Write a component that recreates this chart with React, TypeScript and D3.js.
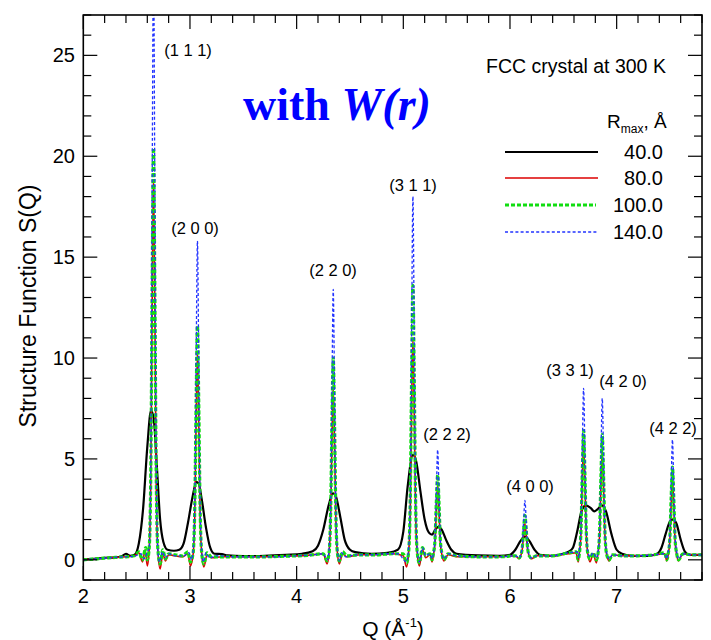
import React from "react";
import * as d3 from "d3";

type Pt = [number, number];

const xTicks = [2, 3, 4, 5, 6, 7];
const yTicks = [0, 5, 10, 15, 20, 25];
const legendLabels = ["40.0", "80.0", "100.0", "140.0"];

const series40: Pt[] = [
  [2.0, 0.02], [2.1, 0.05], [2.2, 0.1], [2.3, 0.12], [2.36, 0.18], [2.4, 0.3], [2.44, 0.2], [2.48, 0.25],
  [2.52, 0.8], [2.56, 2.5], [2.6, 5.6], [2.635, 7.4], [2.66, 7.0], [2.69, 4.6], [2.72, 2.0], [2.75, 0.9],
  [2.79, 0.5], [2.85, 0.45], [2.9, 0.5], [2.94, 0.8], [2.98, 1.8], [3.02, 3.0], [3.06, 3.85], [3.08, 3.8],
  [3.11, 3.0], [3.15, 1.6], [3.19, 0.6], [3.23, 0.3], [3.3, 0.28], [3.35, 0.22], [3.5, 0.18], [3.7, 0.2],
  [3.9, 0.25], [4.05, 0.3], [4.15, 0.42], [4.2, 0.7], [4.25, 1.5], [4.3, 2.7], [4.34, 3.3], [4.37, 3.1],
  [4.41, 2.1], [4.45, 1.0], [4.5, 0.5], [4.55, 0.38], [4.7, 0.3], [4.85, 0.35], [4.9, 0.4], [4.95, 0.5],
  [5.0, 1.4], [5.04, 3.6], [5.09, 5.2], [5.12, 4.9], [5.16, 3.4], [5.2, 2.0], [5.24, 1.35], [5.27, 1.25],
  [5.3, 1.5], [5.33, 1.65], [5.36, 1.5], [5.4, 1.0], [5.45, 0.5], [5.5, 0.3], [5.7, 0.22], [5.9, 0.2],
  [6.0, 0.25], [6.05, 0.5], [6.1, 0.95], [6.14, 1.15], [6.18, 0.95], [6.23, 0.5], [6.28, 0.25], [6.4, 0.2],
  [6.5, 0.3], [6.55, 0.4], [6.59, 0.6], [6.63, 1.4], [6.67, 2.4], [6.71, 2.7], [6.76, 2.55], [6.79, 2.4],
  [6.82, 2.5], [6.86, 2.7], [6.9, 2.4], [6.95, 1.3], [7.0, 0.5], [7.05, 0.3], [7.15, 0.2], [7.3, 0.2],
  [7.38, 0.3], [7.42, 0.6], [7.46, 1.3], [7.5, 1.9], [7.53, 2.0], [7.56, 1.8], [7.6, 1.0], [7.64, 0.4],
  [7.68, 0.25], [7.8, 0.25],
];

const series80: Pt[] = [
  [2.0, 0.0], [2.1, 0.04], [2.2, 0.08], [2.3, 0.12], [2.4, 0.15], [2.48, 0.2], [2.52, 0.35], [2.555, -0.1], [2.58, 0.5], [2.6, -0.3],
  [2.618, 0.55], [2.633, 4.1], [2.646, 12.8], [2.658, 18.8], [2.67, 12.8], [2.683, 4.1], [2.698, 0.55],
  [2.72, -0.45], [2.745, 0.3], [2.77, -0.05], [2.8, 0.25], [2.86, 0.2], [2.93, 0.15], [2.98, 0.3], [3.005, -0.3],
  [3.03, 0.3], [3.045, 2.2], [3.058, 6.9], [3.07, 10.2], [3.082, 6.9], [3.095, 2.2], [3.11, 0.3],
  [3.13, -0.35], [3.16, 0.25], [3.2, 0.1], [3.3, 0.15], [3.5, 0.15], [3.7, 0.15], [3.9, 0.18], [4.1, 0.22], [4.25, 0.3], [4.285, -0.2],
  [4.303, 0.3], [4.318, 1.9], [4.331, 5.8], [4.343, 8.6], [4.355, 5.8], [4.368, 1.9], [4.383, 0.3],
  [4.4, -0.2], [4.43, 0.3], [4.47, 0.15], [4.6, 0.25], [4.75, 0.25], [4.9, 0.3], [5.0, 0.2], [5.03, -0.35],
  [5.05, 0.35], [5.065, 2.4], [5.078, 7.5], [5.09, 11.0], [5.102, 7.5], [5.115, 2.4], [5.13, 0.35],
  [5.15, -0.3], [5.18, 0.5], [5.21, 0.1], [5.25, 0.25], [5.27, -0.1],
  [5.282, 0.25], [5.297, 0.8], [5.31, 2.5], [5.322, 3.7], [5.334, 2.5], [5.347, 0.8], [5.362, 0.25],
  [5.38, -0.05], [5.42, 0.25], [5.5, 0.15], [5.7, 0.15], [5.9, 0.15], [6.05, 0.2], [6.085, 0.05],
  [6.1, 0.2], [6.115, 0.5], [6.128, 1.25], [6.14, 1.8], [6.152, 1.25], [6.165, 0.5], [6.18, 0.2],
  [6.2, 0.05], [6.25, 0.2], [6.4, 0.2], [6.55, 0.3], [6.62, 0.35], [6.64, -0.1],
  [6.65, 0.3], [6.665, 1.25], [6.678, 3.9], [6.69, 5.7], [6.702, 3.9], [6.715, 1.25], [6.73, 0.3],
  [6.75, -0.1], [6.78, 0.3], [6.81, -0.15],
  [6.825, 0.3], [6.84, 1.2], [6.853, 3.7], [6.865, 5.4], [6.877, 3.7], [6.89, 1.2], [6.905, 0.3],
  [6.93, -0.05], [6.96, 0.25], [7.05, 0.2], [7.2, 0.2], [7.35, 0.25], [7.45, 0.3], [7.47, -0.05],
  [7.483, 0.25], [7.498, 0.9], [7.511, 2.7], [7.523, 4.0], [7.535, 2.7], [7.548, 0.9], [7.563, 0.25],
  [7.58, -0.05], [7.62, 0.3], [7.7, 0.25], [7.8, 0.25],
];

const series100: Pt[] = [
  [2.0, 0.0], [2.1, 0.04], [2.2, 0.08], [2.3, 0.12], [2.4, 0.15], [2.48, 0.2], [2.52, 0.4], [2.555, 0.0], [2.585, 0.6], [2.6, 0.0],
  [2.618, 0.6], [2.633, 4.5], [2.646, 13.9], [2.658, 20.4], [2.67, 13.9], [2.683, 4.5], [2.698, 0.6],
  [2.72, -0.2], [2.745, 0.5], [2.77, 0.05], [2.8, 0.3], [2.86, 0.25], [2.93, 0.2], [2.98, 0.4], [3.005, -0.1],
  [3.03, 0.35], [3.045, 2.6], [3.058, 7.9], [3.07, 11.6], [3.082, 7.9], [3.095, 2.6], [3.11, 0.35],
  [3.13, -0.2], [3.16, 0.35], [3.2, 0.15], [3.3, 0.15], [3.5, 0.15], [3.7, 0.15], [3.9, 0.18], [4.1, 0.22], [4.25, 0.3], [4.285, -0.05],
  [4.303, 0.3], [4.318, 2.2], [4.331, 6.8], [4.343, 10.0], [4.355, 6.8], [4.368, 2.2], [4.383, 0.3],
  [4.4, -0.05], [4.43, 0.4], [4.47, 0.2], [4.6, 0.25], [4.75, 0.25], [4.9, 0.3], [5.0, 0.3], [5.03, -0.15],
  [5.05, 0.4], [5.065, 3.0], [5.078, 9.2], [5.09, 13.6], [5.102, 9.2], [5.115, 3.0], [5.13, 0.4],
  [5.15, -0.15], [5.18, 0.6], [5.21, 0.2], [5.25, 0.3], [5.27, 0.0],
  [5.282, 0.3], [5.297, 1.0], [5.31, 2.9], [5.322, 4.2], [5.334, 2.9], [5.347, 1.0], [5.362, 0.3],
  [5.38, 0.0], [5.42, 0.3], [5.5, 0.2], [5.7, 0.15], [5.9, 0.15], [6.05, 0.2], [6.085, 0.1],
  [6.1, 0.2], [6.115, 0.6], [6.128, 1.5], [6.14, 2.2], [6.152, 1.5], [6.165, 0.6], [6.18, 0.2],
  [6.2, 0.1], [6.25, 0.2], [6.4, 0.2], [6.55, 0.35], [6.62, 0.4], [6.64, 0.0],
  [6.65, 0.3], [6.665, 1.4], [6.678, 4.35], [6.69, 6.4], [6.702, 4.35], [6.715, 1.4], [6.73, 0.3],
  [6.75, 0.05], [6.78, 0.35], [6.81, 0.0],
  [6.825, 0.3], [6.84, 1.4], [6.853, 4.2], [6.865, 6.2], [6.877, 4.2], [6.89, 1.4], [6.905, 0.3],
  [6.93, 0.0], [6.96, 0.25], [7.05, 0.2], [7.2, 0.2], [7.35, 0.25], [7.45, 0.35], [7.47, 0.0],
  [7.483, 0.3], [7.498, 1.0], [7.511, 3.1], [7.523, 4.6], [7.535, 3.1], [7.548, 1.0], [7.563, 0.3],
  [7.58, 0.0], [7.62, 0.3], [7.7, 0.25], [7.8, 0.25],
];

const series140: Pt[] = [
  [2.0, 0.0], [2.1, 0.04], [2.2, 0.08], [2.3, 0.12], [2.4, 0.15], [2.48, 0.18], [2.54, 0.3], [2.57, 0.05], [2.6, 0.4],
  [2.618, 0.6], [2.633, 5.1], [2.646, 19], [2.658, 30], [2.67, 19], [2.683, 5.1], [2.698, 0.6],
  [2.715, -0.1], [2.74, 0.4], [2.77, 0.1], [2.8, 0.3], [2.86, 0.2], [2.94, 0.2], [2.99, 0.35], [3.015, 0.0],
  [3.03, 0.5], [3.045, 2.8], [3.058, 10], [3.07, 15.8], [3.082, 10], [3.095, 2.8], [3.11, 0.5],
  [3.125, -0.1], [3.15, 0.35], [3.18, 0.1], [3.25, 0.2], [3.4, 0.15], [3.6, 0.15], [3.8, 0.15], [4.0, 0.2], [4.15, 0.25], [4.25, 0.3], [4.29, 0.0],
  [4.303, 0.5], [4.318, 2.4], [4.331, 8.5], [4.343, 13.4], [4.355, 8.5], [4.368, 2.4], [4.383, 0.5],
  [4.4, -0.05], [4.42, 0.35], [4.46, 0.15], [4.55, 0.25], [4.7, 0.25], [4.85, 0.3], [4.95, 0.3], [5.03, -0.1],
  [5.05, 0.6], [5.065, 3.2], [5.078, 11.4], [5.09, 18.0], [5.102, 11.4], [5.115, 3.2], [5.13, 0.6],
  [5.15, -0.1], [5.18, 0.6], [5.21, 0.2], [5.25, 0.3], [5.27, 0.05],
  [5.282, 0.3], [5.297, 1.1], [5.31, 3.5], [5.322, 5.45], [5.334, 3.5], [5.347, 1.1], [5.362, 0.3],
  [5.38, 0.05], [5.42, 0.3], [5.5, 0.2], [5.7, 0.15], [5.9, 0.15], [6.05, 0.2], [6.09, 0.1],
  [6.1, 0.25], [6.115, 0.7], [6.128, 1.95], [6.14, 2.95], [6.152, 1.95], [6.165, 0.7], [6.18, 0.25],
  [6.2, 0.1], [6.25, 0.2], [6.4, 0.2], [6.55, 0.35], [6.63, 0.4], [6.645, 0.1],
  [6.65, 0.4], [6.665, 1.6], [6.678, 5.5], [6.69, 8.5], [6.702, 5.5], [6.715, 1.6], [6.73, 0.4],
  [6.75, 0.15], [6.78, 0.35], [6.81, 0.1],
  [6.825, 0.4], [6.84, 1.5], [6.853, 5.2], [6.865, 8.0], [6.877, 5.2], [6.89, 1.5], [6.905, 0.4],
  [6.93, 0.05], [6.96, 0.25], [7.05, 0.2], [7.2, 0.2], [7.35, 0.25], [7.45, 0.3], [7.47, 0.05],
  [7.483, 0.4], [7.498, 1.2], [7.511, 3.8], [7.523, 5.95], [7.535, 3.8], [7.548, 1.2], [7.563, 0.4],
  [7.58, 0.05], [7.62, 0.3], [7.7, 0.25], [7.8, 0.25],
];

const peakLabels = ["(1 1 1)", "(2 0 0)", "(2 2 0)", "(3 1 1)", "(2 2 2)", "(4 0 0)", "(3 3 1)", "(4 2 0)", "(4 2 2)"];
// label anchor positions (pixels: center x, baseline y)
const peakLabelPos: [number, number][] = [
  [188, 56], [195, 234], [333, 276], [413, 191], [447, 440], [530, 492], [570, 376], [623, 387], [673, 434],
];

const W = 711, H = 640;
const L = 83.3, R = 702, T = 15, B = 580;

export default function App() {
  const x = d3.scaleLinear().domain([2, 7.8]).range([L, R]);
  const y = d3.scaleLinear().domain([-1, 27]).range([B, T]);
  const line = d3.line<Pt>().x(d => x(d[0])).y(d => y(d[1])).curve(d3.curveMonotoneX);

  const xMinor = d3.range(2, 7.8001, 0.2);
  const yMinor = d3.range(-1, 27.001, 1);
  const font = "'Liberation Sans', Arial, sans-serif";

  const styles = [
    { data: series40, stroke: "#000000", width: 2.2, dash: "" },
    { data: series80, stroke: "#dd0000", width: 1.6, dash: "" },
    { data: series100, stroke: "#11dd11", width: 3.2, dash: "4 2" },
    { data: series140, stroke: "#2233ff", width: 1.3, dash: "3 2.2" },
  ];

  const legY = [152, 178, 205, 232];

  return (
    <svg width={W} height={H} style={{ position: "absolute", left: 0, top: 0, background: "#fff" }} fontFamily={font}>
      <defs>
        <clipPath id="plotClip">
          <rect x={L} y={T} width={R - L} height={B - T} />
        </clipPath>
      </defs>
      <rect x={0} y={0} width={W} height={H} fill="#fff" />

      <g clipPath="url(#plotClip)">
        {styles.map((s, i) => (
          <path key={i} d={line(s.data) || ""} fill="none" stroke={s.stroke} strokeWidth={s.width}
            strokeDasharray={s.dash || undefined} strokeLinejoin="round" />
        ))}
      </g>

      {/* ticks */}
      <g stroke="#000" strokeWidth={1.2}>
        {xMinor.map((v, i) => {
          const major = Math.abs(v - Math.round(v)) < 1e-6;
          const len = major ? 14 : 8;
          const px = x(v);
          return (
            <g key={"xm" + i}>
              <line x1={px} x2={px} y1={B} y2={B - len} />
              <line x1={px} x2={px} y1={T} y2={T + len} />
            </g>
          );
        })}
        {yMinor.map((v, i) => {
          const major = v % 5 === 0;
          const len = major ? 14 : 8;
          const py = y(v);
          return (
            <g key={"ym" + i}>
              <line x1={L} x2={L + len} y1={py} y2={py} />
              <line x1={R} x2={R - len} y1={py} y2={py} />
            </g>
          );
        })}
      </g>
      <rect x={L} y={T} width={R - L} height={B - T} fill="none" stroke="#000" strokeWidth={1.6} />

      {/* tick labels */}
      {xTicks.map(v => (
        <text key={"xl" + v} x={x(v)} y={603} fontSize={20} textAnchor="middle">{v}</text>
      ))}
      {yTicks.map(v => (
        <text key={"yl" + v} x={75} y={y(v) + 7} fontSize={20} textAnchor="end">{v}</text>
      ))}

      {/* axis titles */}
      <text x={393} y={636} fontSize={21} textAnchor="middle">
        Q (Å<tspan fontSize={13} dy={-9}>-1</tspan><tspan dy={9}>)</tspan>
      </text>
      <text transform="translate(36,306) rotate(-90)" fontSize={23} textAnchor="middle">Structure Function S(Q)</text>

      {/* peak labels */}
      {peakLabels.map((t, i) => (
        <text key={"pl" + i} x={peakLabelPos[i][0]} y={peakLabelPos[i][1]} fontSize={16.5} textAnchor="middle">{t}</text>
      ))}

      {/* title */}
      <text x={243} y={120} fontFamily="'Liberation Serif', 'Times New Roman', serif" fontWeight="bold" fontSize={46} fill="#0000ff">
        with <tspan fontStyle="italic">W(r)</tspan>
      </text>
      <text x={486} y={73} fontSize={19.5}>FCC crystal at 300 K</text>

      {/* legend */}
      <text x={607} y={128} fontSize={19}>R<tspan fontSize={12} dy={5}>max</tspan><tspan dy={-5}>, Å</tspan></text>
      {styles.map((s, i) => (
        <g key={"lg" + i}>
          <line x1={505} x2={i === 2 ? 596 : 598} y1={legY[i]} y2={legY[i]} stroke={s.stroke}
            strokeWidth={s.width} strokeDasharray={s.dash || undefined} />
          <text x={663} y={legY[i] + 7} fontSize={20} textAnchor="end">{legendLabels[i]}</text>
        </g>
      ))}
    </svg>
  );
}
